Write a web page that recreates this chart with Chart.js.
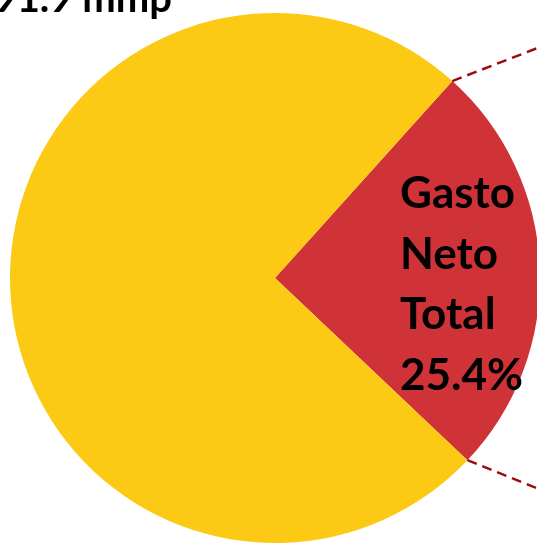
<!DOCTYPE html>
<html>
<head>
<meta charset="utf-8">
<script src="https://cdn.jsdelivr.net/npm/chart.js@4/dist/chart.umd.min.js"></script>
<style>
  html, body { margin: 0; padding: 0; background: #fff; overflow: hidden; }
  #wrap { position: absolute; left: 0; top: 0; width: 560px; height: 560px; }
</style>
</head>
<body>
<div id="wrap"><canvas id="pie"></canvas></div>
<script>
// data
const categories = ["Gasto Neto Total", "Resto"];
const shares = [25.4, 74.6];
const colors = ["#CF3338", "#FCC914"];
const totalLabel = "91.9 mmp";
const sliceLabel = ["Gasto", "Neto", "Total", "25.4%"];

const FONT = "Lato, 'Liberation Sans', Arial, sans-serif";

// leader lines + texts
const annotations = {
  id: "annotations",
  afterDatasetsDraw(chart) {
    const ctx = chart.ctx;
    const arc = chart.getDatasetMeta(0).data[0];
    const { x: cx, y: cy, outerRadius: r, startAngle, endAngle } = arc.getProps(
      ["x", "y", "outerRadius", "startAngle", "endAngle"], true);

    ctx.save();
    ctx.strokeStyle = "#9E0B0F";
    ctx.lineWidth = 2.5;
    ctx.setLineDash([10, 6]);
    const legs = [
      { a: startAngle, dir: -21.2 * Math.PI / 180 },
      { a: endAngle, dir: 22 * Math.PI / 180 }
    ];
    legs.forEach(l => {
      const x0 = cx + r * Math.cos(l.a), y0 = cy + r * Math.sin(l.a);
      const len = 100;
      ctx.beginPath();
      ctx.moveTo(x0, y0);
      ctx.lineTo(x0 + len * Math.cos(l.dir), y0 + len * Math.sin(l.dir));
      ctx.stroke();
    });
    ctx.setLineDash([]);

    ctx.fillStyle = "#000";
    ctx.font = "bold 44px " + FONT;
    ctx.textAlign = "left";
    ctx.textBaseline = "alphabetic";
    sliceLabel.forEach((t, i) => {
      ctx.fillText(t, cx + 125, cy - 70 + i * 60.5);
    });

    ctx.font = "bold 40px " + FONT;
    ctx.textAlign = "right";
    ctx.fillText(totalLabel, 172, 12);
    ctx.restore();
  }
};

new Chart(document.getElementById("pie"), {
  type: "pie",
  data: {
    labels: categories,
    datasets: [{
      data: shares,
      backgroundColor: colors,
      borderWidth: 0
    }]
  },
  options: {
    responsive: true,
    maintainAspectRatio: false,
    animation: false,
    rotation: 42,
    layout: { padding: { left: 10, right: 20, top: 13, bottom: 17 } },
    plugins: {
      legend: { display: false },
      tooltip: { enabled: false }
    }
  },
  plugins: [annotations]
});
</script>
</body>
</html>
